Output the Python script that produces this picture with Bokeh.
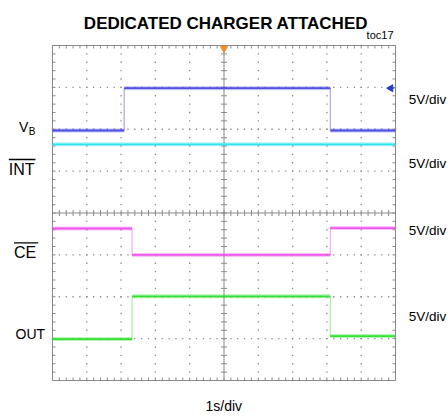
import numpy as np
from bokeh.plotting import figure
from bokeh.models import Label, Range1d
from bokeh.embed import file_html
from bokeh.resources import INLINE

# ---------------- data (in scope divisions; 1 s/div, 5 V/div) ----------------
x_divs = [0, 1, 2, 3, 4, 5, 6, 7, 8, 9, 10]
y_divs = [0, 1, 2, 3, 4, 5, 6, 7, 8]

vb_t = [0.0, 2.09, 8.10, 10.0]
vb_v = [5.97, 6.98, 5.97]

int_t = [0.0, 10.0]
int_v = [5.64]

ce_t = [0.0, 2.32, 8.10, 10.0]
ce_v = [3.63, 3.00, 3.64]

out_t = [0.0, 2.32, 8.10, 10.0]
out_v = [0.99, 2.01, 1.06]

title = "DEDICATED CHARGER ATTACHED"
toc = "toc17"
scale_labels = ["5V/div", "5V/div", "5V/div", "5V/div"]
time_label = "1s/div"

FONT = "Liberation Sans"
GRID = "#8a8a8a"

W, H = 448, 417
PX_X = 34.3     # pixels per horizontal division
PX_Y = 41.875   # pixels per vertical division
L, R, T, B = 52, 53, 45, 37

p = figure(width=W, height=H,
           x_range=Range1d(-L / PX_X, 10 + R / PX_X),
           y_range=Range1d(-B / PX_Y, 8 + T / PX_Y),
           output_backend="svg", toolbar_location=None,
           x_axis_location=None, y_axis_location=None,
           min_border=0, min_border_left=0, min_border_right=0,
           min_border_top=0, min_border_bottom=0)
p.grid.visible = False
p.outline_line_color = None
p.background_fill_color = "white"
p.border_fill_color = "white"

x_min, x_max = x_divs[0], x_divs[-1]
y_min, y_max = y_divs[0], y_divs[-1]
x_mid = (x_min + x_max) / 2
y_mid = (y_min + y_max) / 2
minor_x = np.arange(x_min, x_max + 1e-9, 0.2)
minor_y = np.arange(y_min, y_max + 1e-9, 0.2)
tx = 3 / PX_X
ty = 3 / PX_Y

# dotted graticule
inner_x = [v for v in x_divs[1:-1] if v != x_mid]
inner_y = [v for v in y_divs[1:-1] if v != y_mid]
gx, gy = np.meshgrid(inner_x, minor_y)
p.scatter(x=gx.ravel(), y=gy.ravel(), marker="square", size=1.3, color=GRID, line_color=None)
hx, hy = np.meshgrid(minor_x, inner_y)
p.scatter(x=hx.ravel(), y=hy.ravel(), marker="square", size=1.3, color=GRID, line_color=None)

# centre cross
p.segment(x0=[x_mid], x1=[x_mid], y0=[y_min], y1=[y_max], line_color=GRID, line_width=1)
p.segment(x0=[x_min], x1=[x_max], y0=[y_mid], y1=[y_mid], line_color=GRID, line_width=1)
p.segment(x0=minor_x, x1=minor_x, y0=y_mid - ty, y1=y_mid + ty, line_color=GRID, line_width=1)
p.segment(x0=x_mid - tx, x1=x_mid + tx, y0=minor_y, y1=minor_y, line_color=GRID, line_width=1)

# frame with inward minor ticks
p.quad(left=[x_min], right=[x_max], bottom=[y_min], top=[y_max],
       fill_color=None, line_color=GRID, line_width=1)
p.segment(x0=minor_x, x1=minor_x, y0=y_min, y1=y_min + ty, line_color=GRID)
p.segment(x0=minor_x, x1=minor_x, y0=y_max, y1=y_max - ty, line_color=GRID)
p.segment(x0=x_min, x1=x_min + tx, y0=minor_y, y1=minor_y, line_color=GRID)
p.segment(x0=x_max, x1=x_max - tx, y0=minor_y, y1=minor_y, line_color=GRID)


def trace(t, v, color, edge):
    t = np.asarray(t)
    v = np.asarray(v)
    if len(v) > 1:
        p.segment(x0=t[1:-1], x1=t[1:-1], y0=v[:-1], y1=v[1:], line_color=edge, line_width=1.2)
    p.segment(x0=t[:-1], x1=t[1:], y0=v, y1=v, line_color=color, line_width=4, line_alpha=0.35)
    p.segment(x0=t[:-1], x1=t[1:], y0=v, y1=v, line_color=color, line_width=1.8)


trace(vb_t, vb_v, "#4f4fe0", "#a8a8f0")
trace(int_t, int_v, "#2fe3f0", "#9ff0f8")
trace(ce_t, ce_v, "#f055f0", "#f8a8f8")
trace(out_t, out_v, "#35e035", "#a8f0a8")

# trigger marker and channel marker
p.scatter(x=[x_mid], y=[y_max - 0.07], marker="inverted_triangle", size=7, color="#f08a20")
p.scatter(x=[9.86], y=[vb_v[1]], marker="triangle", angle=np.pi / 2, size=7, color="#2040d0")
p.segment(x0=[9.86], x1=[9.97], y0=[vb_v[1]], y1=[vb_v[1]], line_color="#2040d0", line_width=1)


def lab(px, base_py, text, fs, align="left", bold=False):
    """Place a text by its page-pixel left/centre x and baseline y."""
    x = (px - L) / PX_X
    y = (H - B - (base_py - 0.28 * fs)) / PX_Y
    p.add_layout(Label(x=x, y=y, text=text, text_font=FONT, text_font_size=f"{fs}px",
                       text_align=align, text_baseline="alphabetic", text_color="black",
                       text_font_style="bold" if bold else "normal"))


lab(225.5, 27.7, title, 17, "center", True)
lab(393, 37.5, toc, 11, "right")

# channel labels
lab(18.5, 130.5, "V", 14)
lab(28.3, 134, "B", 10)
lab(8.3, 173.8, "INT", 16)
lab(13.5, 256.7, "CE", 16)
lab(15, 337.5, "OUT", 14)
p.segment(x0=[(8.3 - L) / PX_X, (13.5 - L) / PX_X], x1=[(35 - L) / PX_X, (37.7 - L) / PX_X],
          y0=[(380 - 159.0) / PX_Y, (380 - 242.3) / PX_Y],
          y1=[(380 - 159.0) / PX_Y, (380 - 242.3) / PX_Y],
          line_color="black", line_width=1.3)

for by, t in zip([103, 166.5, 233.5, 320], scale_labels):
    lab(408.3, by, t, 13.5)

lab(223.3, 409.5, time_label, 14, "center")

open("out.html", "w").write(file_html(p, INLINE))
